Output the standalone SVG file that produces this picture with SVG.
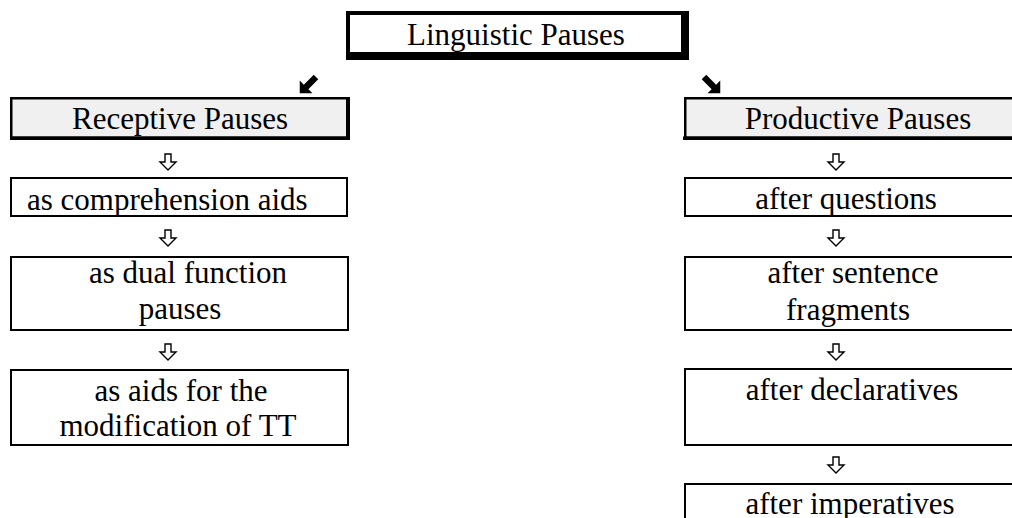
<svg xmlns="http://www.w3.org/2000/svg" width="1012" height="518" viewBox="0 0 1012 518" font-family="'Liberation Serif', 'Times New Roman', Tinos, 'DejaVu Serif', serif">
<style>
text{font-family:'Liberation Serif','Times New Roman',Tinos,'DejaVu Serif',serif;font-size:31px;fill:#000;text-anchor:middle}
.box{fill:#fff;stroke:#000;stroke-width:2}
.hdr{fill:#f0f0f0;stroke:#000;stroke-width:2.5}
.down{fill:#fff;stroke:#000;stroke-width:1.4;stroke-linejoin:miter}
.diag{fill:#000}
</style>
<defs>
<path id="dn" class="down" d="M-3,0 H3 V8 H8 L0,16 L-8,8 H-3 Z"/>
<path id="dg" class="diag" d="M0,-3.2 H14 V-9 L23,0 L14,9 V3.2 H0 Z"/>
</defs>
<rect width="1012" height="518" fill="#fff"/>
<g id="connectors">
<use href="#dg" transform="translate(316,77) rotate(135)"/>
<use href="#dg" transform="translate(704,77) rotate(45)"/>
<use href="#dn" x="168" y="154"/>
<use href="#dn" x="168" y="230"/>
<use href="#dn" x="168" y="344"/>
<use href="#dn" x="836" y="154"/>
<use href="#dn" x="836" y="230"/>
<use href="#dn" x="836" y="344"/>
<use href="#dn" x="836" y="457"/>
</g>
<g id="linguistic-pauses">
<rect x="346" y="11" width="343" height="49" fill="#000"/>
<rect x="350" y="15" width="331" height="37" fill="#fff"/>
<text x="516" y="45">Linguistic Pauses</text>
</g>
<g id="receptive-pauses">
<rect class="hdr" x="11.25" y="98.25" width="336" height="39.5"/>
<rect x="346" y="97" width="4" height="43" fill="#000"/>
<rect x="10" y="136.5" width="340" height="3.5" fill="#000"/>
<text x="180" y="129">Receptive Pauses</text>
</g>
<g id="comprehension-aids">
<rect class="box" x="11" y="178" width="336" height="38"/>
<text x="27" y="210" style="text-anchor:start">as comprehension aids</text>
</g>
<g id="dual-function">
<rect class="box" x="11" y="257" width="337" height="73"/>
<text x="188" y="283">as dual function</text>
<text x="180" y="319">pauses</text>
</g>
<g id="modification-tt">
<rect class="box" x="11" y="370" width="337" height="75"/>
<text x="181" y="401">as aids for the</text>
<text x="178" y="436">modification of TT</text>
</g>
<g id="productive-pauses">
<rect class="hdr" x="685.25" y="98.25" width="350" height="39.5"/>
<rect x="683" y="136.5" width="360" height="3.5" fill="#000"/>
<text x="858" y="129">Productive Pauses</text>
</g>
<g id="after-questions">
<rect class="box" x="685" y="178" width="350" height="38"/>
<text x="846" y="209">after questions</text>
</g>
<g id="after-fragments">
<rect class="box" x="685" y="257" width="350" height="73"/>
<text x="853" y="283">after sentence</text>
<text x="848" y="320">fragments</text>
</g>
<g id="after-declaratives">
<rect class="box" x="685" y="369" width="350" height="76"/>
<text x="852" y="400">after declaratives</text>
</g>
<g id="after-imperatives">
<rect class="box" x="685" y="484" width="350" height="60"/>
<text x="850" y="514">after imperatives</text>
</g>
</svg>
